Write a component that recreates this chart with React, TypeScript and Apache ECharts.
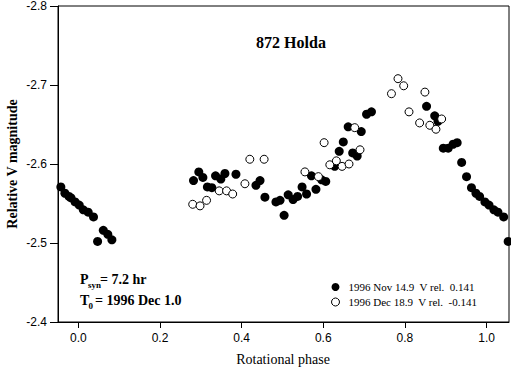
import React, { useEffect, useRef } from "react";
import * as echarts from "echarts";

const xTicks = [0.0, 0.2, 0.4, 0.6, 0.8, 1.0];
const yTicks = [-2.8, -2.7, -2.6, -2.5, -2.4];

const novName = "1996 Nov 14.9  V rel.  0.141";
const decName = "1996 Dec 18.9  V rel.  -0.141";

// [phase, relative V magnitude] — 1996 Nov 14.9 (filled)
const novData: [number, number][] = [
  [-0.043, -2.571], [-0.033, -2.563], [-0.023, -2.559], [-0.018, -2.557], [-0.008, -2.552],
  [0.002, -2.548], [0.012, -2.542], [0.024, -2.539], [0.037, -2.533], [0.047, -2.502],
  [0.061, -2.516], [0.072, -2.511], [0.082, -2.504],
  [0.282, -2.579], [0.295, -2.590], [0.305, -2.583], [0.316, -2.571], [0.327, -2.570],
  [0.336, -2.585], [0.349, -2.581], [0.359, -2.588], [0.386, -2.587], [0.435, -2.573],
  [0.445, -2.579], [0.457, -2.558], [0.484, -2.552], [0.494, -2.554], [0.504, -2.535],
  [0.514, -2.561], [0.526, -2.555], [0.537, -2.559], [0.548, -2.571], [0.559, -2.562],
  [0.571, -2.585], [0.582, -2.568], [0.596, -2.580], [0.606, -2.578], [0.628, -2.597],
  [0.639, -2.616], [0.649, -2.628], [0.661, -2.647], [0.672, -2.614], [0.683, -2.610],
  [0.693, -2.641], [0.706, -2.663], [0.718, -2.666],
  [0.853, -2.673], [0.873, -2.661], [0.881, -2.654], [0.894, -2.620], [0.906, -2.620],
  [0.918, -2.625], [0.928, -2.627], [0.939, -2.602], [0.951, -2.584], [0.963, -2.570],
  [0.974, -2.563], [0.983, -2.559], [0.996, -2.552], [1.006, -2.548], [1.018, -2.542],
  [1.028, -2.539], [1.042, -2.533], [1.053, -2.502],
];

// [phase, relative V magnitude] — 1996 Dec 18.9 (open)
const decData: [number, number][] = [
  [0.280, -2.549], [0.298, -2.547], [0.314, -2.554], [0.345, -2.566], [0.363, -2.566],
  [0.378, -2.562], [0.408, -2.575], [0.420, -2.606], [0.455, -2.606], [0.555, -2.590],
  [0.588, -2.584], [0.602, -2.627], [0.616, -2.599], [0.632, -2.604], [0.646, -2.597],
  [0.663, -2.600], [0.677, -2.646], [0.690, -2.618], [0.767, -2.689], [0.783, -2.708],
  [0.797, -2.699], [0.810, -2.666], [0.836, -2.652], [0.849, -2.691], [0.861, -2.649],
  [0.876, -2.644], [0.890, -2.657],
];

const SERIF = "'Liberation Serif', 'Times New Roman', serif";
const SANS = "'Liberation Sans', Arial, sans-serif";

export default function App() {
  const ref = useRef<HTMLDivElement>(null);
  useEffect(() => {
    if (!ref.current) return;
    const chart = echarts.init(ref.current, undefined, { renderer: "svg" });
    const txt = (text: string, x: number, y: number, size: number, bold = true, extra: any = {}) => ({
      type: "text",
      x,
      y,
      silent: true,
      style: {
        text,
        fontFamily: SERIF,
        fontSize: size,
        fontWeight: bold ? "bold" : "normal",
        fill: "#000",
        textAlign: "left",
        textVerticalAlign: "middle",
        ...extra,
      },
    });
    chart.setOption({
      animation: false,
      backgroundColor: "#fff",
      grid: {
        left: 58,
        top: 6,
        width: 451,
        height: 316,
        show: true,
        borderColor: "#000",
        borderWidth: 1,
        backgroundColor: "transparent",
      },
      xAxis: {
        type: "value",
        min: -0.05,
        max: 1.055,
        axisLine: { show: true, onZero: false, lineStyle: { color: "#000", width: 1 } },
        axisTick: { show: true, inside: false, length: 6, customValues: xTicks, lineStyle: { color: "#000" } },
        axisLabel: {
          show: true,
          customValues: xTicks,
          margin: 10,
          color: "#000",
          fontFamily: SANS,
          fontSize: 12,
          formatter: (v: number) => v.toFixed(1),
        },
        splitLine: { show: false },
      },
      yAxis: {
        type: "value",
        inverse: true,
        min: -2.8,
        max: -2.4,
        interval: 0.1,
        axisLine: { show: true, onZero: false, lineStyle: { color: "#000", width: 1 } },
        axisTick: { show: true, inside: false, length: 8, lineStyle: { color: "#000" } },
        axisLabel: {
          show: true,
          margin: 11,
          color: "#000",
          fontFamily: SANS,
          fontSize: 12,
          formatter: (v: number) => v.toFixed(1),
        },
        splitLine: { show: false },
      },
      legend: {
        orient: "vertical",
        left: 326,
        top: 276,
        itemWidth: 8,
        itemHeight: 8,
        itemGap: 3,
        icon: "circle",
        data: [
          { name: novName, itemStyle: { color: "#000", borderWidth: 0 } },
          { name: decName, itemStyle: { color: "#fff", borderColor: "#000", borderWidth: 1 } },
        ],
        textStyle: {
          fontFamily: SERIF,
          fontSize: 11,
          lineHeight: 12,
          color: "#000",
          padding: [0, 0, 0, 4],
        },
      },
      graphic: [
        {
          type: "text",
          x: 291,
          y: 42,
          silent: true,
          style: {
            text: "872 Holda",
            fontFamily: SERIF,
            fontSize: 16,
            fontWeight: "bold",
            fill: "#000",
            textAlign: "center",
            textVerticalAlign: "middle",
          },
        },
        {
          type: "text",
          x: 12,
          y: 164,
          rotation: Math.PI / 2,
          silent: true,
          style: {
            text: "Relative V magnitude",
            fontFamily: SERIF,
            fontSize: 14,
            fontWeight: "bold",
            fill: "#000",
            textAlign: "center",
            textVerticalAlign: "middle",
          },
        },
        {
          type: "text",
          x: 283,
          y: 359,
          silent: true,
          style: {
            text: "Rotational phase",
            fontFamily: SERIF,
            fontSize: 14,
            fill: "#000",
            textAlign: "center",
            textVerticalAlign: "middle",
          },
        },
        txt("P", 80, 279, 14),
        txt("syn", 88, 284.5, 9),
        txt("= 7.2 hr", 100, 279, 14),
        txt("T", 80, 300.5, 14),
        txt("0", 88.5, 306, 9),
        txt("= 1996 Dec 1.0", 95, 300.5, 14),
      ],
      series: [
        {
          name: novName,
          type: "scatter",
          data: novData,
          symbol: "circle",
          symbolSize: 9,
          itemStyle: { color: "#000", borderColor: "#000", borderWidth: 0, opacity: 1 },
          emphasis: { disabled: true },
        },
        {
          name: decName,
          type: "scatter",
          data: decData,
          symbol: "circle",
          symbolSize: 8,
          itemStyle: { color: "#fff", borderColor: "#000", borderWidth: 1, opacity: 1 },
          emphasis: { disabled: true },
        },
      ],
    });
    return () => chart.dispose();
  }, []);
  return <div ref={ref} style={{ width: 511, height: 370, position: "absolute", left: 0, top: 0 }} />;
}
